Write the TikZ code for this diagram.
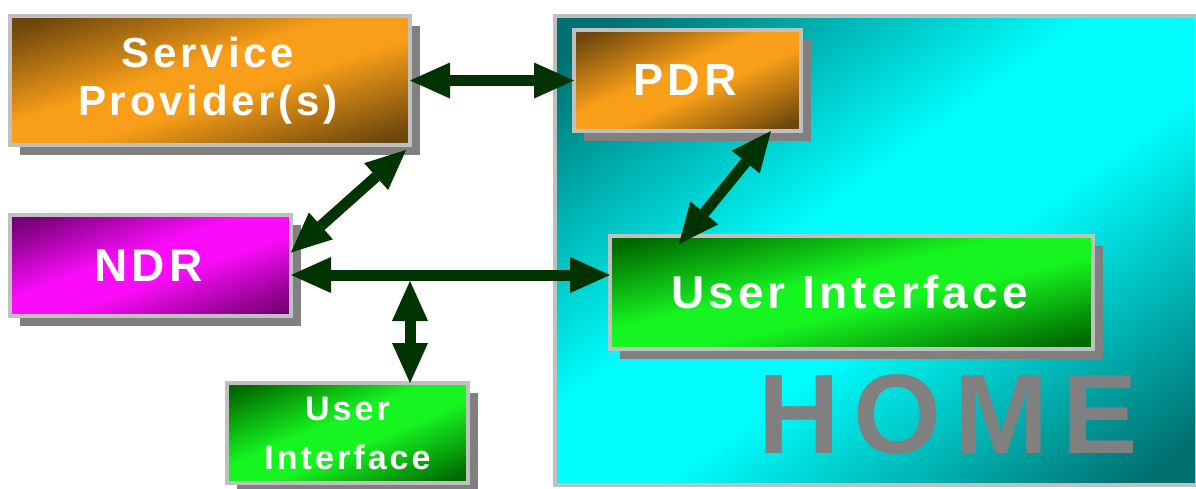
\documentclass[tikz,border=0pt]{standalone}
\usepackage{fontspec}
\setmainfont{Liberation Sans}
\newfontfamily\boxfont{Liberation Sans}[LetterSpace=9]
\newfontfamily\homefont{Liberation Sans}[LetterSpace=12]
\usetikzlibrary{arrows.meta}

\definecolor{linkgreen}{RGB}{0,51,0}
\definecolor{rimgray}{RGB}{192,192,192}
\definecolor{shadowgray}{RGB}{128,128,128}
\definecolor{orangeLo}{RGB}{108,70,12}
\definecolor{orangeHi}{RGB}{248,158,24}
\definecolor{magentaLo}{RGB}{118,0,118}
\definecolor{magentaHi}{RGB}{250,12,250}
\definecolor{greenLo}{RGB}{0,105,0}
\definecolor{greenHi}{RGB}{22,245,32}
\definecolor{cyanLo}{RGB}{0,112,112}
\definecolor{cyanHi}{RGB}{0,252,252}
\colorlet{glowLo}{black}
\colorlet{glowHi}{white}

% dark ends, bright middle; re-evaluated for the current glowLo/glowHi
\pgfdeclareverticalshading[glowLo,glowHi]{glowband}{100bp}{%
  color(0bp)=(glowLo); color(18bp)=(glowLo); color(44bp)=(glowHi);
  color(56bp)=(glowHi); color(82bp)=(glowLo); color(100bp)=(glowLo)}

\tikzset{
  panel/.style={draw=rimgray, line width=4pt, inner sep=0pt, outer sep=0pt,
    text=white, align=center},
  link/.style={draw=linkgreen, fill=linkgreen, line width=11pt,
    {Triangle[length=40pt, width=36pt, line width=0pt]}-{Triangle[length=40pt, width=36pt, line width=0pt]}},
}

% unit square, stretched to a w x h rectangle around a centre
\newcommand\unitsq{(-0.5,-0.5) rectangle (0.5,0.5)}

% #1 name, #2 centre, #3 width, #4 height, #5 dark colour, #6 bright colour,
% #7 1 = with drop shadow, #8 font, #9 text
\newcommand\glowbox[9]{%
  \ifnum#7=1
    \fill[shadowgray, transform canvas={shift={#2}, xshift=10pt, yshift=-10pt,
      xscale=#3, yscale=#4}] \unitsq;
  \fi
  % dark in the top-left and bottom-right corners, bright along the other diagonal
  \colorlet{glowLo}{#5}\colorlet{glowHi}{#6}%
  \shade[transform canvas={shift={#2}, xscale=#3, yscale=#4},
    shading=glowband, shading angle=45] \unitsq;
  \node[panel, minimum width=#3pt, minimum height=#4pt, font=#8] (#1) at #2 {#9};
}

\newcommand\labfont[1]{\boxfont\bfseries\fontsize{#1}{#1}\selectfont}
\newcommand\nudge{\hspace*{-4pt}}

\begin{document}
\begin{tikzpicture}[x=1pt, y=-1pt]
  \useasboundingbox (0,0) rectangle (1196,488);
  \fill[white] (0,0) rectangle (1196,488);

  % the home area on the right
  \glowbox{home}{(876,250.5)}{642}{469}{cyanLo}{cyanHi}{0}{}{}
  \node[font=\homefont\bfseries\fontsize{113}{113}\selectfont, text=shadowgray,
        inner sep=0pt, anchor=base] (homelabel) at (948,453) {HOME};

  % boxes
  \glowbox{sp}{(210,80.5)}{400}{129}{orangeLo}{orangeHi}{1}
    {\boxfont\bfseries\fontsize{42}{48}\selectfont}{\nudge Service\\\nudge Provider(s)}
  \glowbox{pdr}{(687.5,80.5)}{227}{101}{orangeLo}{orangeHi}{1}{\labfont{45}}{\nudge PDR}
  \glowbox{ndr}{(150.5,265.5)}{281}{101}{magentaLo}{magentaHi}{1}{\labfont{46}}{\nudge NDR}
  \glowbox{ui}{(851.5,292.5)}{483}{113}{greenLo}{greenHi}{1}{\labfont{46}}{\nudge User Interface}
  \glowbox{uis}{(347.5,433)}{241}{100}{greenLo}{greenHi}{1}
    {\boxfont\bfseries\fontsize{34}{49}\selectfont}{User\\Interface}

  % connectors
  \draw[link] (sp.east) -- (pdr.west);
  \draw[link] ([xshift=-4pt, yshift=-5pt]sp.south east) -- ([yshift=13pt]ndr.east);
  \draw[link] ([xshift=-30pt]pdr.south east) -- ([xshift=69pt, yshift=-8pt]ui.north west);
  \coordinate (bus) at ([yshift=-9.5pt]ndr.east);
  \draw[link] (bus) -- (bus -| ui.west);
  \coordinate (tap) at (410,281);
  \draw[link] (tap) -- (tap |- uis.north);
\end{tikzpicture}
\end{document}
